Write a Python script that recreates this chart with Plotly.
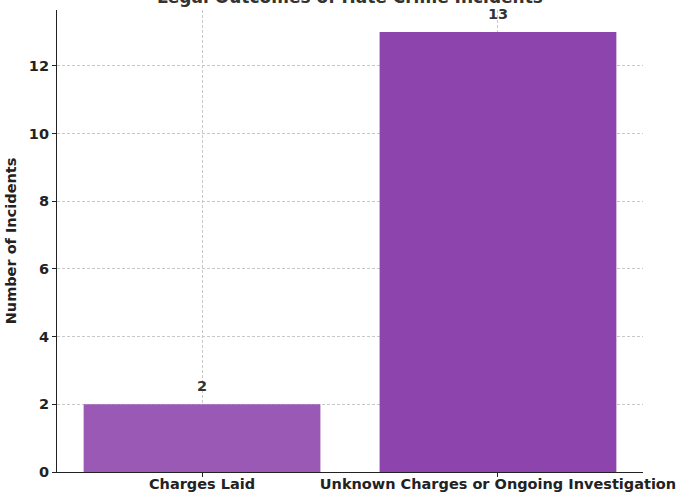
import plotly.graph_objects as go

categories = ["Charges Laid", "Unknown Charges or Ongoing Investigation"]
values = [2, 13]
colors = ["#9b59b6", "#8e44ad"]
title = "Legal Outcomes of Hate Crime Incidents"
y_label = "Number of Incidents"
y_ticks = [0, 2, 4, 6, 8, 10, 12]

font_family = "DejaVu Sans"
fs = 14.5
fig = go.Figure()
fig.add_trace(go.Bar(
    x=[0, 1], y=values, marker=dict(color=colors, line=dict(width=0)),
    width=0.8, showlegend=False, hoverinfo="skip",
))
for i, v in enumerate(values):
    fig.add_annotation(x=i, y=v, text=f"<b>{v}</b>", showarrow=False,
                       yanchor="bottom", yshift=8,
                       font=dict(family=font_family, size=fs, color="#333333"))

fig.add_annotation(x=0.5, y=1, xref="paper", yref="paper", text=f"<b>{title}</b>",
                   showarrow=False, yanchor="bottom", yshift=1,
                   font=dict(family=font_family, size=17, color="#333333"))

grid = dict(showgrid=True, gridcolor="#c8c8c8", griddash="3px,2px", gridwidth=0.6)
fig.update_layout(
    width=677, height=493,
    margin=dict(l=57, r=34, t=10, b=21, autoexpand=False),
    plot_bgcolor="white", paper_bgcolor="white",
    font=dict(family=font_family, size=fs, color="#222222"),
    xaxis=dict(range=[-0.49, 1.49], tickvals=[0, 1],
               ticktext=[f"<b>{c}</b>" for c in categories],
               showline=True, linecolor="#222222", linewidth=1.2,
               ticks="outside", ticklen=4, tickcolor="#222222",
               ticklabelstandoff=-6,
               automargin=False,
               layer="above traces", zeroline=False, **grid),
    yaxis=dict(range=[0, 13.65], tickvals=y_ticks,
               ticktext=[f"<b>{t}</b>" for t in y_ticks],
               showline=True, linecolor="#222222", linewidth=1.2,
               ticks="outside", ticklen=4, tickcolor="#222222",
               automargin=False,
               title=dict(text=f"<b>{y_label}</b>", standoff=8,
                          font=dict(size=fs, color="#222222")),
               layer="above traces", zeroline=False, **grid),
)
fig.write_html("out.html", config={"displayModeBar": False},
               post_script="document.body.style.margin='0';document.body.style.overflow='hidden';")
